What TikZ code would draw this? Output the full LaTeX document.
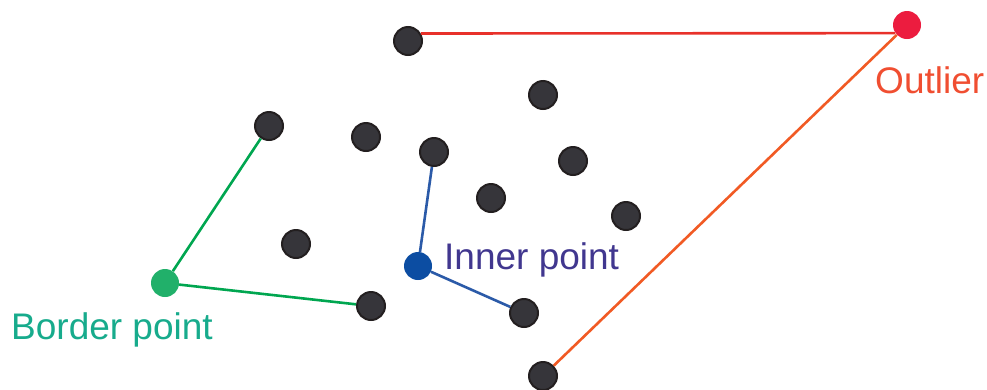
\documentclass[tikz,border=0pt]{standalone}
\usepackage{fontspec}
\setmainfont{Liberation Sans}
\definecolor{dotfill}{HTML}{36353A}
\definecolor{dotline}{HTML}{231F20}
\definecolor{reddot}{HTML}{EC1C3F}
\definecolor{redline}{HTML}{E8312A}
\definecolor{orangeline}{HTML}{F15A24}
\definecolor{outliertext}{HTML}{F04E31}
\definecolor{greendot}{HTML}{21B06A}
\definecolor{greenline}{HTML}{00A650}
\definecolor{bordertext}{HTML}{17AB8C}
\definecolor{bluedot}{HTML}{0C4DA2}
\definecolor{blueline}{HTML}{2B5AA8}
\definecolor{innertext}{HTML}{41378F}
\begin{document}
\begin{tikzpicture}[x=1pt,y=-1pt,
  pt/.style={circle,inner sep=0pt,minimum size=28pt,fill=dotfill,draw=dotline,line width=2pt},
  cpt/.style={circle,inner sep=0pt,minimum size=28pt},
  lbl/.style={anchor=base west,inner sep=0pt,font=\fontsize{37}{40}\selectfont},
  conn/.style={line width=2.6pt}]
\useasboundingbox (0,0) rectangle (987,389);
\node[pt] (d1) at (408,41) {};
\node[pt] (d2) at (543,95) {};
\node[pt] (d3) at (269,126) {};
\node[pt] (d4) at (366,137) {};
\node[pt] (d5) at (434,152) {};
\node[pt] (d6) at (573,161) {};
\node[pt] (d7) at (491,198) {};
\node[pt] (d8) at (626,216) {};
\node[pt] (d9) at (296,244) {};
\node[pt] (d10) at (371,306) {};
\node[pt] (d11) at (524,313) {};
\node[pt] (d12) at (543,376) {};
\node[cpt,fill=reddot] (out) at (907,25) {};
\node[cpt,fill=greendot] (bord) at (165,283) {};
\node[cpt,fill=bluedot] (inner) at (418,266) {};
\draw[conn,redline] (d1.30) -- (out.215);
\draw[conn,orangeline] (out) -- (d12);
\draw[conn,greenline] (bord) -- (d3);
\draw[conn,greenline] (bord) -- (d10);
\draw[conn,blueline] (inner) -- (d5);
\draw[conn,blueline] (inner) -- (d11);
\node[lbl,text=outliertext] (tout) at (875,93) {Outlier};
\node[lbl,text=innertext] (tinner) at (444,269) {Inner point};
\node[lbl,text=bordertext] (tbord) at (11,339) {Border point};
\end{tikzpicture}
\end{document}
